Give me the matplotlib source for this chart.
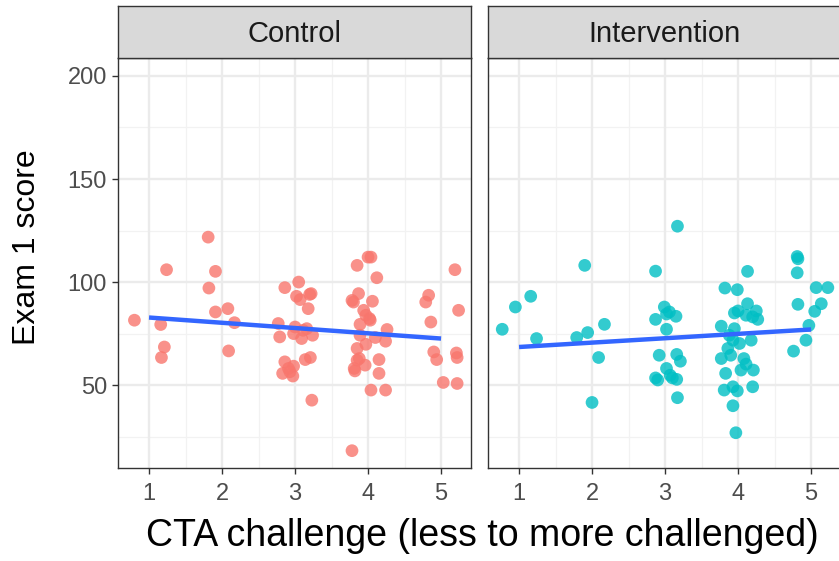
import matplotlib
matplotlib.use("Agg")
import matplotlib.pyplot as plt
import numpy as np

plt.rcParams['font.family'] = ['Liberation Sans', 'DejaVu Sans']

panels = ["Control", "Intervention"]

control_x = [0.80, 1.16, 1.21, 1.17, 1.24,
             1.81, 1.91, 1.82, 1.91, 2.08, 2.17, 2.09,
             2.86, 3.05, 3.02, 3.07, 3.20, 3.22, 3.18, 2.77, 2.79, 3.00, 2.98, 3.11,
             3.09, 3.24, 3.16, 2.86, 2.98, 3.14, 3.21, 2.83, 2.97, 2.91, 3.23, 2.93,
             4.00, 4.04, 3.85, 4.12, 3.87, 3.78, 3.80, 4.06, 3.94, 3.97, 4.02, 4.03,
             3.89, 4.26, 3.89, 4.10, 4.24, 3.97, 3.85, 3.88, 3.96, 3.81, 3.85, 3.82,
             4.15, 4.15, 4.04, 4.24, 3.78,
             5.19, 4.83, 4.79, 5.24, 4.86, 4.90, 4.94, 5.21, 5.22, 5.03, 5.22]
control_y = [81.5, 79.4, 68.5, 63.4, 106.0,
             121.8, 105.2, 97.1, 85.5, 87.1, 80.3, 66.6,
             97.3, 100.0, 93.1, 91.5, 94.0, 94.4, 87.1, 79.9, 73.4, 78.2, 75.0, 76.6,
             72.6, 74.2, 77.4, 61.3, 59.2, 62.4, 63.4, 55.7, 54.4, 58.1, 42.7, 56.5,
             112.1, 112.1, 108.1, 102.1, 94.4, 91.1, 90.3, 90.7, 86.3, 83.9, 82.3, 81.5,
             79.5, 77.0, 74.2, 73.1, 71.3, 69.8, 67.8, 62.9, 59.7, 58.1, 62.1, 56.9,
             62.4, 55.7, 47.6, 47.6, 18.2,
             106.0, 93.6, 90.3, 86.3, 80.6, 66.1, 62.4, 65.6, 63.4, 51.3, 50.8]

intervention_x = [0.77, 0.95, 1.16, 1.24,
                  1.90, 1.79, 1.94, 2.17, 2.09, 2.00,
                  3.17, 2.87, 2.99, 3.06, 3.15, 2.87, 3.02, 2.92, 3.16, 3.21, 3.02,
                  2.87, 3.07, 3.16, 3.17, 2.90, 3.10, 3.02,
                  4.13, 3.82, 3.99, 4.13, 3.95, 4.00, 4.25, 4.11, 4.20, 4.27, 3.77,
                  3.95, 3.88, 4.18, 4.02, 3.93, 3.86, 3.90, 3.77, 4.08, 4.11, 4.04,
                  4.21, 3.83, 3.81, 3.93, 3.99, 4.20, 3.93, 3.97,
                  4.81, 4.82, 4.81, 5.07, 5.23, 4.82, 5.14, 5.05, 4.97, 4.93, 4.76]
intervention_y = [77.1, 87.9, 93.1, 72.6,
                  108.1, 73.1, 75.5, 79.5, 63.4, 41.6,
                  127.1, 105.3, 87.9, 85.5, 83.4, 81.9, 77.1, 64.5, 64.9, 61.6, 58.1,
                  53.5, 54.8, 52.8, 43.9, 52.5, 53.5, 84.5,
                  105.2, 97.1, 96.3, 89.5, 85.0, 86.0, 86.0, 83.9, 83.1, 81.9, 78.6,
                  77.4, 74.2, 71.8, 70.2, 71.8, 67.8, 64.5, 62.9, 62.9, 60.2, 57.3,
                  57.3, 55.7, 47.6, 49.2, 47.2, 49.2, 40.0, 26.9,
                  112.4, 111.3, 104.5, 97.3, 97.3, 89.2, 89.5, 85.8, 79.0, 71.8, 66.5]

# linear fit values at x = 1 and x = 5
fit_x = [1, 5]
control_fit = [82.8, 72.6]
intervention_fit = [68.5, 77.0]

x_ticks = [1, 2, 3, 4, 5]
y_ticks = [50, 100, 150, 200]

colors = ["#F8766D", "#00BFC4"]
xs = [control_x, intervention_x]
ys = [control_y, intervention_y]
fits = [control_fit, intervention_fit]

W, H = 839, 561
fig = plt.figure(figsize=(W / 100, H / 100), dpi=100)

def fx(px):
    return px / W

def fy(py):
    return 1 - py / H

panel_left = [118, 488]
panel_w = 353
panel_top, panel_bot = 58, 468
strip_top = 6

xlim = (0.575, 5.41)
ylim = (9.8, 208.7)

for i, name in enumerate(panels):
    ax = fig.add_axes([fx(panel_left[i]), fy(panel_bot), panel_w / W, (panel_bot - panel_top) / H])
    ax.set_xlim(*xlim)
    ax.set_ylim(*ylim)
    ax.set_facecolor("white")
    for v in [1.5, 2.5, 3.5, 4.5]:
        ax.axvline(v, color="#F2F2F2", lw=0.9, zorder=0)
    for v in [25, 75, 125, 175]:
        ax.axhline(v, color="#F2F2F2", lw=0.9, zorder=0)
    for v in x_ticks:
        ax.axvline(v, color="#EBEBEB", lw=1.7, zorder=0)
    for v in y_ticks:
        ax.axhline(v, color="#EBEBEB", lw=1.7, zorder=0)
    ax.scatter(xs[i], ys[i], s=84, color=colors[i], alpha=0.8, edgecolors="none", zorder=3)
    ax.plot(fit_x, fits[i], color="#3366FF", lw=3.2, zorder=4, solid_capstyle="butt")
    ax.set_xticks(x_ticks)
    ax.set_yticks(y_ticks)
    ax.tick_params(axis="both", length=4, width=1, color="#333333", labelcolor="#4D4D4D",
                   labelsize=17, pad=4)
    ax.tick_params(axis="x", pad=7)
    if i == 1:
        ax.tick_params(axis="y", left=False, labelleft=False)
    for sp in ax.spines.values():
        sp.set_color("#333333")
        sp.set_linewidth(1.0)

    sax = fig.add_axes([fx(panel_left[i]), fy(panel_top), panel_w / W, (panel_top - strip_top) / H])
    sax.set_facecolor("#D9D9D9")
    sax.set_xticks([])
    sax.set_yticks([])
    for sp in sax.spines.values():
        sp.set_color("#333333")
        sp.set_linewidth(1.0)
    sax.text(0.5, 0.47, name, transform=sax.transAxes, ha="center", va="center",
             fontsize=21, color="#1A1A1A")

fig.text(fx(482), fy(536), "CTA challenge (less to more challenged)", ha="center", va="center",
         fontsize=27, color="black")
fig.text(fx(27), fy(247), "Exam 1 score", ha="center", va="center", rotation=90,
         fontsize=23, color="black")

fig.savefig("out.png", dpi=100)
